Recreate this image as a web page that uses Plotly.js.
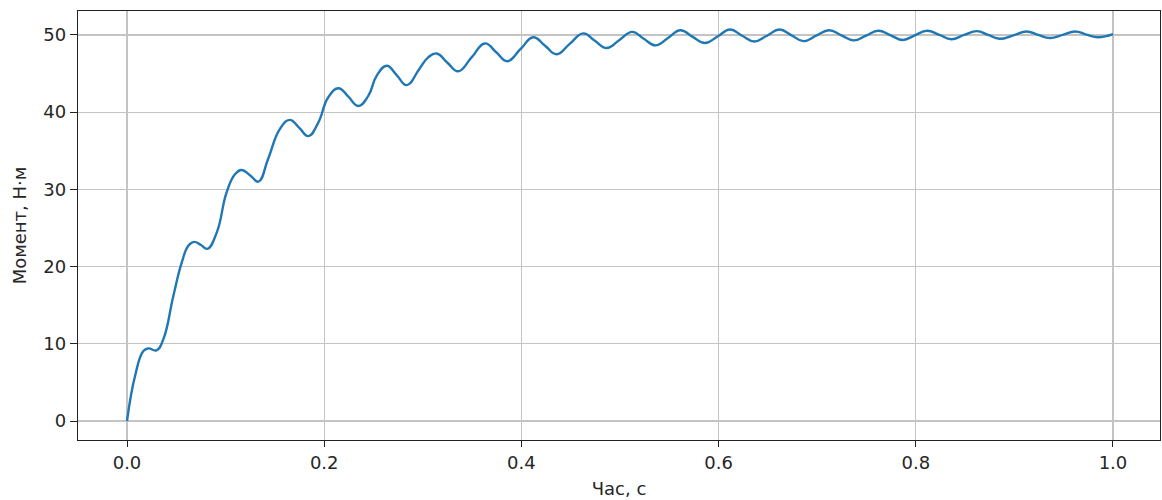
<!DOCTYPE html>
<html>
<head>
<meta charset="utf-8">
<script src="https://cdn.plot.ly/plotly-3.0.1.min.js"></script>
<style>html,body{margin:0;padding:0;background:#fff;}#chart{width:1162px;height:500px;}</style>
</head>
<body>
<div id="chart"></div>
<script>
// Time, s
const timeS = [
  0, 0.0081, 0.0166, 0.0216, 0.030, 0.0369, 0.047, 0.0555, 0.0622, 0.068, 0.075, 0.0815,
  0.091, 0.101, 0.1095, 0.1163, 0.125, 0.1333, 0.143, 0.155, 0.165, 0.1745, 0.184,
  0.194, 0.204, 0.2145, 0.2245, 0.2345, 0.2447, 0.2532, 0.2634, 0.2735, 0.2837,
  0.2965, 0.3055, 0.314, 0.325, 0.336, 0.3495, 0.363, 0.3745, 0.3857, 0.399, 0.412,
  0.424, 0.4358, 0.449, 0.4628, 0.4745, 0.4865, 0.4995, 0.5124, 0.5242, 0.536, 0.5487, 0.5613,
  0.5737, 0.5862, 0.599, 0.6116, 0.6239, 0.6362, 0.649, 0.6618, 0.674, 0.686, 0.699, 0.712,
  0.7245, 0.737, 0.7495, 0.762, 0.7745, 0.787, 0.799, 0.8115, 0.824, 0.836, 0.849, 0.862,
  0.8735, 0.885, 0.899, 0.9125, 0.924, 0.936, 0.949, 0.9615, 0.973, 0.985, 1.0
];
// Torque, N·m
const torque = [
  0, 5.8, 9.07, 9.4, 9.16, 10.6, 16.2, 20.5, 22.7, 23.2, 22.8, 22.3,
  24.4, 29.6, 31.95, 32.5, 31.8, 31.0, 33.9, 37.8, 39.0, 38.0, 36.9,
  38.65, 41.9, 43.1, 42.0, 40.8, 42.1, 44.7, 46.0, 44.8, 43.5,
  45.6, 47.1, 47.6, 46.4, 45.3, 47.1, 48.9, 47.75, 46.6, 48.15, 49.7,
  48.6, 47.5, 48.85, 50.2, 49.25, 48.3, 49.35, 50.4, 49.5, 48.65, 49.6, 50.6,
  49.75, 48.95, 49.8, 50.7, 49.9, 49.15, 49.9, 50.7, 49.95, 49.2, 49.9, 50.6,
  49.95, 49.3, 49.9, 50.55, 49.95, 49.35, 49.95, 50.55, 50.0, 49.45, 50.0, 50.5,
  50.0, 49.5, 49.95, 50.45, 50.0, 49.6, 50.0, 50.45, 50.05, 49.7, 50.1
];
const xTicks = [0.0, 0.2, 0.4, 0.6, 0.8, 1.0];
const xTickText = ['0.0', '0.2', '0.4', '0.6', '0.8', '1.0'];
const yTicks = [0, 10, 20, 30, 40, 50];
const xTitle = 'Час, с';
const yTitle = 'Момент, Н·м';

const font = {family: 'DejaVu Sans, sans-serif', size: 18, color: '#262626'};
Plotly.newPlot('chart', [{
  x: timeS, y: torque, type: 'scatter', mode: 'lines',
  line: {color: '#1f77b4', width: 2.4, shape: 'spline', smoothing: 1.3},
  hoverinfo: 'skip'
}], {
  width: 1162, height: 500,
  margin: {l: 78, r: 2, t: 11, b: 60},
  paper_bgcolor: '#fff', plot_bgcolor: '#fff',
  showlegend: false,
  font: font,
  xaxis: {
    range: [-0.0497, 1.0477], tickvals: xTicks, ticktext: xTickText,
    showgrid: true, gridcolor: '#c4c4c4', gridwidth: 1.2,
    zeroline: false, showline: true, mirror: true, linecolor: '#222', linewidth: 1.3,
    ticks: 'outside', ticklen: 6, tickcolor: '#222', tickfont: font,
    title: {text: xTitle, font: font, standoff: 10}
  },
  yaxis: {
    range: [-2.46, 53.1], tickvals: yTicks,
    showgrid: true, gridcolor: '#c4c4c4', gridwidth: 1.2,
    zeroline: false, showline: true, mirror: true, linecolor: '#222', linewidth: 1.3,
    ticks: 'outside', ticklen: 7, tickcolor: '#222', tickfont: font,
    title: {text: yTitle, font: font, standoff: 12}
  }
}, {staticPlot: true});
</script>
</body>
</html>
